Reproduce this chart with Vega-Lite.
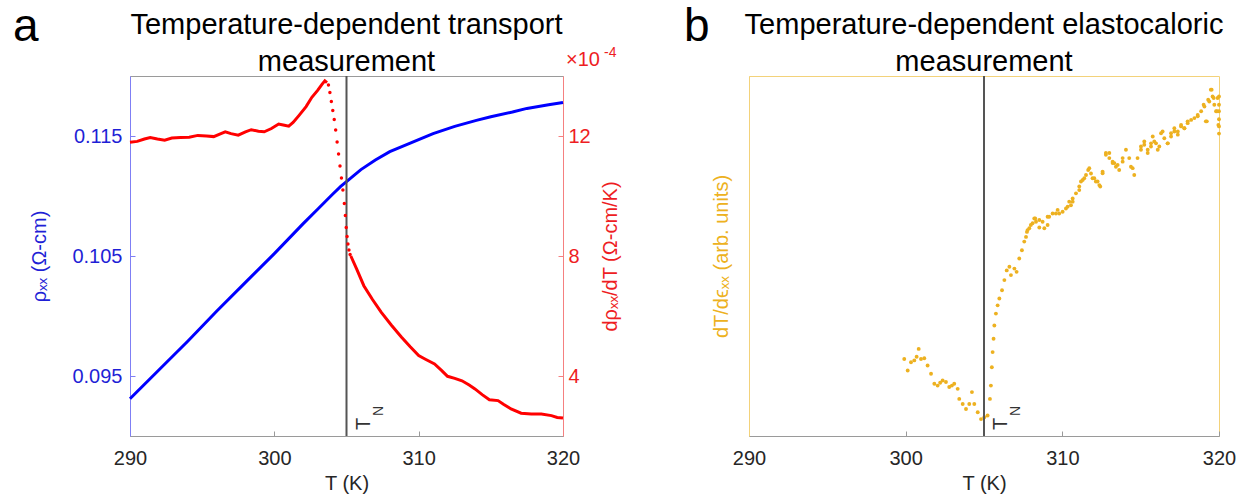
{
  "$schema": "https://vega.github.io/schema/vega-lite/v6.json",
  "padding": {"left": 12, "top": 3, "right": 5, "bottom": 5},
  "background": "white",
  "config": {
    "font": "Liberation Sans",
    "view": {"stroke": "#9a9a9a", "strokeWidth": 1},
    "axis": {"labelFont": "Liberation Sans", "titleFont": "Liberation Sans", "labelFontSize": 20, "titleFontSize": 20, "titleFontWeight": "normal", "grid": false}
  },
  "datasets": {
    "rho": [
      {"T": 290, "rho": 0.0931}, {"T": 292, "rho": 0.0955}, {"T": 294, "rho": 0.0979}, {"T": 296, "rho": 0.1004},
      {"T": 298, "rho": 0.1028}, {"T": 300, "rho": 0.1052}, {"T": 302, "rho": 0.1077}, {"T": 303, "rho": 0.1089},
      {"T": 304, "rho": 0.1101}, {"T": 304.6, "rho": 0.1108}, {"T": 305, "rho": 0.1112}, {"T": 305.5, "rho": 0.1117},
      {"T": 306, "rho": 0.1122}, {"T": 307, "rho": 0.1130}, {"T": 308, "rho": 0.1137}, {"T": 309, "rho": 0.1142},
      {"T": 310, "rho": 0.1147}, {"T": 311, "rho": 0.1152}, {"T": 312.5, "rho": 0.1158}, {"T": 314, "rho": 0.1163},
      {"T": 315, "rho": 0.1166}, {"T": 316.5, "rho": 0.1170}, {"T": 317.5, "rho": 0.1173}, {"T": 319, "rho": 0.1176},
      {"T": 320, "rho": 0.1178}
    ],
    "drho": [
      {"T": 290.0, "d": 11.79}, {"T": 290.5, "d": 11.82}, {"T": 291.0, "d": 11.90}, {"T": 291.4, "d": 11.95},
      {"T": 291.9, "d": 11.90}, {"T": 292.4, "d": 11.86}, {"T": 292.9, "d": 11.93}, {"T": 293.5, "d": 11.95},
      {"T": 294.1, "d": 11.96}, {"T": 294.7, "d": 12.02}, {"T": 295.3, "d": 12.00}, {"T": 295.8, "d": 11.98},
      {"T": 296.3, "d": 12.08}, {"T": 296.6, "d": 12.14}, {"T": 297.0, "d": 12.08}, {"T": 297.5, "d": 12.03},
      {"T": 298.0, "d": 12.14}, {"T": 298.4, "d": 12.21}, {"T": 298.9, "d": 12.16}, {"T": 299.3, "d": 12.14},
      {"T": 299.8, "d": 12.25}, {"T": 300.3, "d": 12.40}, {"T": 300.7, "d": 12.36}, {"T": 301.0, "d": 12.33},
      {"T": 301.3, "d": 12.45}, {"T": 301.7, "d": 12.68}, {"T": 302.2, "d": 12.98}, {"T": 302.6, "d": 13.29},
      {"T": 303.0, "d": 13.52}, {"T": 303.3, "d": 13.72}, {"T": 303.5, "d": 13.84}, {"T": 303.65, "d": 13.78}
    ],
    "drho_tail": [
      {"T": 305.3, "d": 8.0}, {"T": 305.7, "d": 7.57}, {"T": 306.2, "d": 7.01}, {"T": 306.8, "d": 6.55},
      {"T": 307.4, "d": 6.13}, {"T": 308.1, "d": 5.7}, {"T": 308.8, "d": 5.3}, {"T": 309.4, "d": 4.98},
      {"T": 310.0, "d": 4.68}, {"T": 310.5, "d": 4.55}, {"T": 311.1, "d": 4.4}, {"T": 311.6, "d": 4.18},
      {"T": 312.0, "d": 3.99}, {"T": 312.5, "d": 3.92}, {"T": 313.0, "d": 3.84}, {"T": 313.5, "d": 3.70},
      {"T": 313.9, "d": 3.57}, {"T": 314.4, "d": 3.38}, {"T": 314.9, "d": 3.21}, {"T": 315.5, "d": 3.18},
      {"T": 315.9, "d": 3.05}, {"T": 316.4, "d": 2.90}, {"T": 317.1, "d": 2.76}, {"T": 317.8, "d": 2.73},
      {"T": 318.5, "d": 2.73}, {"T": 319.2, "d": 2.68}, {"T": 319.6, "d": 2.62}, {"T": 320.0, "d": 2.6}
    ],
    "drho_steep": [
      {"T": 303.75, "d": 13.7}, {"T": 303.85, "d": 13.45}, {"T": 303.95, "d": 13.15}, {"T": 304.05, "d": 12.85},
      {"T": 304.15, "d": 12.55}, {"T": 304.25, "d": 12.2}, {"T": 304.35, "d": 11.8}, {"T": 304.45, "d": 11.4},
      {"T": 304.55, "d": 11.0}, {"T": 304.65, "d": 10.6}, {"T": 304.75, "d": 10.2}, {"T": 304.85, "d": 9.75},
      {"T": 304.92, "d": 9.35}, {"T": 304.98, "d": 8.95}, {"T": 305.04, "d": 8.65}, {"T": 305.1, "d": 8.4},
      {"T": 305.17, "d": 8.2}, {"T": 305.25, "d": 8.05}
    ],
    "elasto": [
      {"T": 299.91, "v": 21.4}, {"T": 300.13, "v": 18.2}, {"T": 300.34, "v": 20.5}, {"T": 300.55, "v": 21.0},
      {"T": 300.7, "v": 22.0}, {"T": 300.83, "v": 24.2}, {"T": 300.98, "v": 21.4}, {"T": 301.19, "v": 21.6},
      {"T": 301.4, "v": 19.6}, {"T": 301.62, "v": 17.3}, {"T": 301.83, "v": 14.5}, {"T": 302.04, "v": 14.0},
      {"T": 302.2, "v": 14.8}, {"T": 302.36, "v": 15.4}, {"T": 302.57, "v": 15.0}, {"T": 302.78, "v": 13.6},
      {"T": 302.95, "v": 14.0}, {"T": 303.1, "v": 14.5}, {"T": 303.32, "v": 13.1}, {"T": 303.42, "v": 10.3},
      {"T": 303.64, "v": 8.9}, {"T": 303.85, "v": 7.5}, {"T": 304.06, "v": 8.9}, {"T": 304.23, "v": 12.2},
      {"T": 304.38, "v": 8.9}, {"T": 304.6, "v": 6.6}, {"T": 304.81, "v": 4.7}, {"T": 305.02, "v": 5.2},
      {"T": 305.23, "v": 5.7}, {"T": 305.38, "v": 10.3}, {"T": 305.44, "v": 14.0}, {"T": 305.5, "v": 19.1},
      {"T": 305.55, "v": 23.3}, {"T": 305.61, "v": 27.0}, {"T": 305.66, "v": 30.7}, {"T": 305.76, "v": 34.0},
      {"T": 305.87, "v": 36.3}, {"T": 305.98, "v": 38.2}, {"T": 306.15, "v": 40.5}, {"T": 306.3, "v": 43.3},
      {"T": 306.45, "v": 46.0}, {"T": 306.62, "v": 47.0}, {"T": 306.72, "v": 44.7}, {"T": 306.94, "v": 46.5},
      {"T": 307.08, "v": 45.6}, {"T": 307.25, "v": 49.3}, {"T": 307.42, "v": 51.6}, {"T": 307.57, "v": 54.0},
      {"T": 307.68, "v": 55.3}, {"T": 307.78, "v": 57.2}, {"T": 307.99, "v": 58.6},
      {"T": 307.74, "v": 56.7}, {"T": 307.89, "v": 57.7}, {"T": 308.1, "v": 59.1}, {"T": 308.27, "v": 60.4},
      {"T": 308.21, "v": 60.4}, {"T": 308.32, "v": 59.5}, {"T": 308.53, "v": 60.0}, {"T": 308.85, "v": 57.7},
      {"T": 308.53, "v": 57.9}, {"T": 308.74, "v": 59.5}, {"T": 309.06, "v": 60.9}, {"T": 309.38, "v": 61.8},
      {"T": 309.06, "v": 58.6}, {"T": 309.16, "v": 60.9}, {"T": 309.59, "v": 61.8}, {"T": 309.8, "v": 61.8},
      {"T": 309.7, "v": 62.8}, {"T": 310.02, "v": 62.3}, {"T": 310.34, "v": 63.7}, {"T": 310.66, "v": 65.1},
      {"T": 310.23, "v": 63.2}, {"T": 310.44, "v": 65.1}, {"T": 310.55, "v": 64.1}, {"T": 310.66, "v": 66.0},
      {"T": 310.87, "v": 67.4}, {"T": 311.08, "v": 69.3}, {"T": 311.3, "v": 71.1}, {"T": 311.51, "v": 72.5},
      {"T": 311.08, "v": 68.3}, {"T": 311.19, "v": 70.7}, {"T": 311.4, "v": 71.6}, {"T": 311.65, "v": 73.9},
      {"T": 311.72, "v": 74.4}, {"T": 311.93, "v": 71.6}, {"T": 312.14, "v": 70.7}, {"T": 312.36, "v": 69.7},
      {"T": 311.83, "v": 72.9}, {"T": 312.04, "v": 71.6}, {"T": 312.25, "v": 70.7}, {"T": 312.42, "v": 69.3},
      {"T": 312.57, "v": 73.0}, {"T": 312.78, "v": 78.1}, {"T": 313.0, "v": 78.6}, {"T": 313.21, "v": 76.2},
      {"T": 312.57, "v": 73.4}, {"T": 312.78, "v": 78.6}, {"T": 313.0, "v": 77.2}, {"T": 313.32, "v": 75.8},
      {"T": 313.42, "v": 74.8}, {"T": 313.63, "v": 73.9}, {"T": 313.85, "v": 76.2}, {"T": 314.06, "v": 79.5},
      {"T": 313.21, "v": 75.8}, {"T": 313.53, "v": 75.3}, {"T": 313.85, "v": 77.2}, {"T": 314.38, "v": 74.8},
      {"T": 314.27, "v": 77.2}, {"T": 314.49, "v": 74.4}, {"T": 314.59, "v": 72.5}, {"T": 314.8, "v": 77.2},
      {"T": 315.02, "v": 79.5}, {"T": 315.23, "v": 80.9}, {"T": 315.45, "v": 78.6}, {"T": 315.66, "v": 80.4},
      {"T": 315.02, "v": 80.4}, {"T": 315.23, "v": 81.8}, {"T": 315.45, "v": 79.5}, {"T": 315.66, "v": 81.3},
      {"T": 315.77, "v": 83.2}, {"T": 315.98, "v": 81.3}, {"T": 316.19, "v": 80.4},
      {"T": 315.87, "v": 81.8}, {"T": 316.09, "v": 79.5}, {"T": 316.3, "v": 84.1}, {"T": 316.51, "v": 82.7},
      {"T": 316.4, "v": 84.6}, {"T": 316.72, "v": 81.3}, {"T": 316.94, "v": 84.1},
      {"T": 316.73, "v": 81.3}, {"T": 316.94, "v": 83.2}, {"T": 317.15, "v": 84.6}, {"T": 317.37, "v": 83.7},
      {"T": 317.15, "v": 85.5}, {"T": 317.37, "v": 84.6}, {"T": 317.58, "v": 86.4}, {"T": 317.79, "v": 85.5},
      {"T": 317.58, "v": 86.0}, {"T": 317.79, "v": 85.5}, {"T": 318.0, "v": 86.9}, {"T": 318.22, "v": 87.8},
      {"T": 318.0, "v": 87.4}, {"T": 318.64, "v": 89.2}, {"T": 319.02, "v": 92.0}, {"T": 319.16, "v": 87.4},
      {"T": 318.43, "v": 88.3}, {"T": 318.64, "v": 88.8}, {"T": 318.86, "v": 90.2}, {"T": 319.07, "v": 91.5},
      {"T": 319.31, "v": 93.4}, {"T": 319.48, "v": 96.2}, {"T": 319.59, "v": 94.3}, {"T": 319.7, "v": 92.0},
      {"T": 319.22, "v": 87.4}, {"T": 319.38, "v": 92.9}, {"T": 319.53, "v": 96.2}, {"T": 319.66, "v": 93.9},
      {"T": 319.81, "v": 90.2}, {"T": 319.91, "v": 93.9}, {"T": 319.96, "v": 86.4}, {"T": 319.87, "v": 90.2},
      {"T": 320.0, "v": 94.3}, {"T": 320.0, "v": 92.0}, {"T": 320.0, "v": 90.2}, {"T": 320.0, "v": 88.0},
      {"T": 320.0, "v": 86.0}, {"T": 320.0, "v": 84.0}
    ]
  },
  "spacing": 186,
  "bounds": "flush",
  "hconcat": [
    {
      "width": 433,
      "height": 360,
      "encoding": {
        "x": {
          "field": "T", "type": "quantitative",
          "scale": {"domain": [290, 320], "nice": false, "zero": false},
          "axis": {"values": [290, 300, 310, 320], "title": "T (K)", "labelColor": "#262626", "titleColor": "#262626",
                   "domainColor": "#9a9a9a", "tickColor": "#9a9a9a", "tickSize": -5, "labelPadding": 17, "titlePadding": 5, "labelFlush": false}
        }
      },
      "layer": [
        {
          "layer": [
            {
              "data": {"name": "rho"},
              "mark": {"type": "line", "color": "#0000ff", "strokeWidth": 3},
              "encoding": {
                "y": {"field": "rho", "type": "quantitative", "scale": {"domain": [0.09, 0.12], "nice": false, "zero": false},
                      "axis": {"values": [0.095, 0.105, 0.115], "format": ".3f", "title": "ρₓₓ (Ω-cm)", "labelColor": "#1f1fd6", "titleColor": "#1f1fd6",
                               "domainColor": "#7f7ff5", "tickColor": "#7f7ff5", "tickSize": -5, "labelPadding": 13, "titlePadding": 22}}
              }
            },
            {
              "data": {"values": [{"T": 305}]},
              "mark": {"type": "rule", "color": "#555555", "strokeWidth": 2},
              "encoding": {}
            },
            {
              "data": {"values": [{"T": 305, "label": "T"}]},
              "mark": {"type": "text", "angle": 270, "align": "left", "baseline": "top", "fontSize": 20, "color": "#333333", "dx": 6, "dy": 7},
              "encoding": {"y": {"datum": 0.09}, "text": {"field": "label"}}
            },
            {
              "data": {"values": [{"T": 305, "label": "N"}]},
              "mark": {"type": "text", "angle": 270, "align": "left", "baseline": "top", "fontSize": 14, "color": "#333333", "dx": 20, "dy": 25},
              "encoding": {"y": {"datum": 0.09}, "text": {"field": "label"}}
            },
            {
              "data": {"values": [{"T": 290, "panel": "a"}]},
              "mark": {"type": "text", "align": "left", "baseline": "alphabetic", "fontSize": 46, "color": "#000000", "dx": -117, "dy": -35},
              "encoding": {"y": {"datum": 0.12}, "text": {"field": "panel"}}
            },
            {
              "data": {"values": [{"T": 305, "heading": ["Temperature-dependent transport", "measurement"]}]},
              "mark": {"type": "text", "align": "center", "baseline": "alphabetic", "fontSize": 29, "lineHeight": 37, "color": "#000000", "dy": -42},
              "encoding": {"y": {"datum": 0.12}, "text": {"field": "heading"}}
            }
          ]
        },
        {
          "layer": [
            {
              "data": {"name": "drho"},
              "mark": {"type": "line", "color": "#ff0000", "strokeWidth": 3},
              "encoding": {
                "y": {"field": "d", "type": "quantitative", "scale": {"domain": [2, 14], "nice": false, "zero": false},
                      "axis": {"orient": "right", "values": [4, 8, 12], "format": "d", "title": "dρₓₓ/dT (Ω-cm/K)", "titleAngle": 270, "titleBaseline": "top",
                               "labelColor": "#ee1d23", "titleColor": "#ee1d23", "domainColor": "#f58080", "tickColor": "#f58080", "tickSize": -5, "labelPadding": 10, "titlePadding": 10}}
              }
            },
            {
              "data": {"name": "drho_tail"},
              "mark": {"type": "line", "color": "#ff0000", "strokeWidth": 3},
              "encoding": {"y": {"field": "d", "type": "quantitative"}}
            },
            {
              "data": {"name": "drho_steep"},
              "mark": {"type": "point", "filled": true, "size": 12, "color": "#ff0000", "opacity": 1},
              "encoding": {"y": {"field": "d", "type": "quantitative"}}
            },
            {
              "data": {"values": [{"T": 320, "mult": "×10"}]},
              "mark": {"type": "text", "align": "left", "baseline": "alphabetic", "fontSize": 20, "color": "#ee1d23", "dx": 3, "dy": -10},
              "encoding": {"y": {"datum": 14}, "text": {"field": "mult"}}
            },
            {
              "data": {"values": [{"T": 320, "exp": "-4"}]},
              "mark": {"type": "text", "align": "left", "baseline": "alphabetic", "fontSize": 14, "color": "#ee1d23", "dx": 41, "dy": -19},
              "encoding": {"y": {"datum": 14}, "text": {"field": "exp"}}
            }
          ]
        }
      ],
      "resolve": {"scale": {"y": "independent"}}
    },
    {
      "width": 470,
      "height": 360,
      "view": {"stroke": "#f3d27a"},
      "encoding": {
        "x": {
          "field": "T", "type": "quantitative",
          "scale": {"domain": [290, 320], "nice": false, "zero": false},
          "axis": {"values": [290, 300, 310, 320], "title": "T (K)", "labelColor": "#262626", "titleColor": "#262626",
                   "domainColor": "#9a9a9a", "tickColor": "#9a9a9a", "tickSize": -5, "labelPadding": 17, "titlePadding": 5, "labelFlush": false}
        }
      },
      "layer": [
        {
          "data": {"name": "elasto"},
          "mark": {"type": "point", "filled": true, "size": 15, "color": "#EDB120", "opacity": 1},
          "encoding": {
            "y": {"field": "v", "type": "quantitative", "scale": {"domain": [0, 100], "nice": false, "zero": false},
                  "axis": {"title": "dT/dϵₓₓ (arb. units)", "labels": false, "ticks": false, "domainColor": "#f3d27a", "titleColor": "#EDB120", "titlePadding": 18}}
          }
        },
        {
          "data": {"values": [{"top": 100}]},
          "mark": {"type": "rule", "color": "#9a9a9a", "strokeWidth": 1},
          "encoding": {"y": {"field": "top", "type": "quantitative"}}
        },
        {
          "data": {"values": [{"T": 305}]},
          "mark": {"type": "rule", "color": "#555555", "strokeWidth": 2},
          "encoding": {}
        },
        {
          "data": {"values": [{"T": 305, "label": "T"}]},
          "mark": {"type": "text", "angle": 270, "align": "left", "baseline": "top", "fontSize": 20, "color": "#333333", "dx": 6, "dy": 7},
          "encoding": {"y": {"datum": 0}, "text": {"field": "label"}}
        },
        {
          "data": {"values": [{"T": 305, "label": "N"}]},
          "mark": {"type": "text", "angle": 270, "align": "left", "baseline": "top", "fontSize": 14, "color": "#333333", "dx": 20, "dy": 25},
          "encoding": {"y": {"datum": 0}, "text": {"field": "label"}}
        },
        {
          "data": {"values": [{"T": 290, "panel": "b"}]},
          "mark": {"type": "text", "align": "left", "baseline": "alphabetic", "fontSize": 46, "color": "#000000", "dx": -65, "dy": -35},
          "encoding": {"y": {"datum": 100}, "text": {"field": "panel"}}
        },
        {
          "data": {"values": [{"T": 305, "heading": ["Temperature-dependent elastocaloric", "measurement"]}]},
          "mark": {"type": "text", "align": "center", "baseline": "alphabetic", "fontSize": 29, "lineHeight": 37, "color": "#000000", "dy": -42},
          "encoding": {"y": {"datum": 100}, "text": {"field": "heading"}}
        }
      ]
    }
  ]
}
